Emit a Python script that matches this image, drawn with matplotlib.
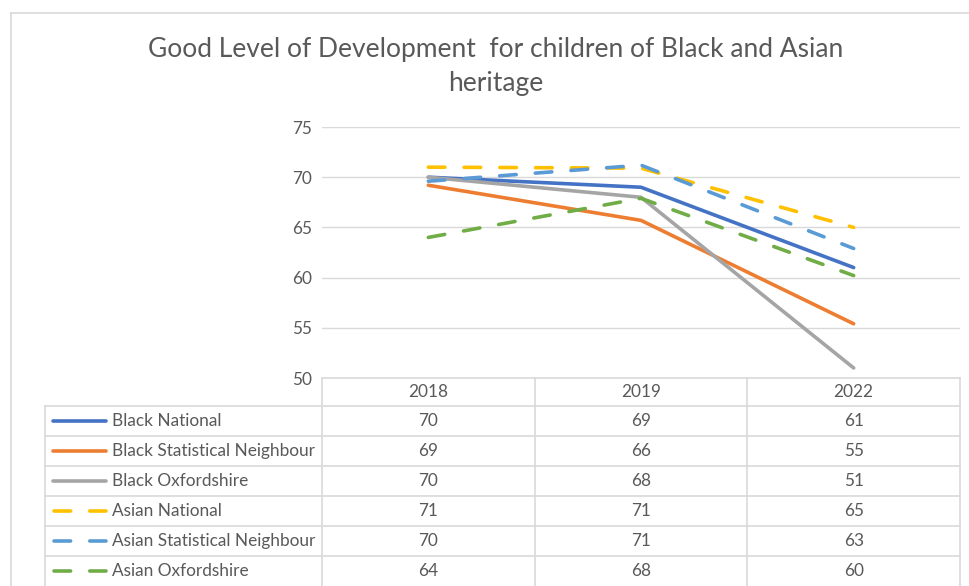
import matplotlib
matplotlib.use("Agg")
import matplotlib.pyplot as plt
from matplotlib.lines import Line2D
from matplotlib.transforms import blended_transform_factory

plt.rcParams['font.family'] = ['Lato', 'DejaVu Sans']

# data (lines use the plotted values, table shows them rounded)
years = ["2018", "2019", "2022"]
series_names = [
    "Black National",
    "Black Statistical Neighbour",
    "Black Oxfordshire",
    "Asian National",
    "Asian Statistical Neighbour",
    "Asian Oxfordshire",
]
black_national = [70.0, 69.0, 61.0]
black_stat_neighbour = [69.2, 65.7, 55.4]
black_oxfordshire = [70.0, 68.0, 51.0]
asian_national = [71.0, 70.9, 65.0]
asian_stat_neighbour = [69.6, 71.2, 62.9]
asian_oxfordshire = [64.0, 67.9, 60.2]

series_values = [black_national, black_stat_neighbour, black_oxfordshire,
                 asian_national, asian_stat_neighbour, asian_oxfordshire]
colors = ["#4472C4", "#ED7D31", "#A5A5A5", "#FFC000", "#5B9BD5", "#70AD47"]
dashed = [False, False, False, True, True, True]

W, H = 970, 586
TEXT = "#595959"
GRID = "#d9d9d9"
LW = 2.6
DASH = (0, (4.6, 5.3))
FS = 12.4


def fx(px):
    return px / W


def fy(py):
    return 1 - py / H


fig = plt.figure(figsize=(W / 100, H / 100), dpi=100)

# chart frame (cropped on the right and bottom)
fig.add_artist(Line2D([fx(11), fx(11)], [fy(13), fy(586)], color=GRID, lw=1.2))
fig.add_artist(Line2D([fx(11), fx(970)], [fy(13), fy(13)], color=GRID, lw=1.2))

fig.text(fx(496), fy(49), "Good Level of Development  for children of Black and Asian",
         ha="center", va="center", fontsize=19, color=TEXT)
fig.text(fx(496), fy(84), "heritage", ha="center", va="center", fontsize=19, color=TEXT)

left, right, top, bottom = 322, 960, 127, 378
ax = fig.add_axes([fx(left), fy(bottom), fx(right - left), (bottom - top) / H])
x = list(range(len(years)))
for vals, c, d in zip(series_values, colors, dashed):
    if d:
        ax.plot(x, vals, color=c, lw=LW, linestyle=DASH, dash_capstyle="round")
    else:
        ax.plot(x, vals, color=c, lw=LW, solid_capstyle="round")

ax.set_xlim(-0.5, 2.5)
ax.set_ylim(50, 75)
ax.set_yticks([50, 55, 60, 65, 70, 75])
ax.set_xticks([])
ax.grid(axis="y", color=GRID, lw=1.0)
ax.set_axisbelow(True)
for s in ax.spines.values():
    s.set_visible(False)
ax.tick_params(axis="y", length=0, pad=7, labelsize=FS, labelcolor=TEXT)

# data table below the plot
trans = blended_transform_factory(ax.transData, fig.transFigure)
header_top, header_bottom, row_h = 378, 406, 30
table_left = 45
bounds = [-0.5, 0.5, 1.5, 2.5]

fig.add_artist(Line2D([bounds[0], bounds[-1]], [fy(header_top)] * 2, transform=trans,
                      color=GRID, lw=1.2))
for b in bounds:
    fig.add_artist(Line2D([b, b], [fy(header_top), fy(H)], transform=trans, color=GRID, lw=1.2))
fig.add_artist(Line2D([fx(table_left)] * 2, [fy(header_bottom), fy(H)], color=GRID, lw=1.2))
for k in range(len(series_names)):
    yl = header_bottom + k * row_h
    fig.add_artist(Line2D([fx(table_left), fx(right)], [fy(yl)] * 2, color=GRID, lw=1.2))

for i, yr in enumerate(years):
    fig.text(i, fy(392), yr, transform=trans, ha="center", va="center",
             fontsize=FS, color=TEXT)

for k, (name, vals, c, d) in enumerate(zip(series_names, series_values, colors, dashed)):
    yc = fy(header_bottom + row_h * k + row_h / 2)
    if d:
        fig.add_artist(Line2D([fx(54), fx(106.5)], [yc, yc], color=c, lw=LW,
                              linestyle=DASH, dash_capstyle="round"))
    else:
        fig.add_artist(Line2D([fx(53.5), fx(106.5)], [yc, yc], color=c, lw=LW,
                              solid_capstyle="round"))
    fig.text(fx(112), yc, name, ha="left", va="center", fontsize=FS, color=TEXT)
    for i, v in enumerate(vals):
        fig.text(i, yc, f"{v:.0f}", transform=trans, ha="center", va="center",
                 fontsize=FS, color=TEXT)

fig.savefig("out.png", dpi=100)
